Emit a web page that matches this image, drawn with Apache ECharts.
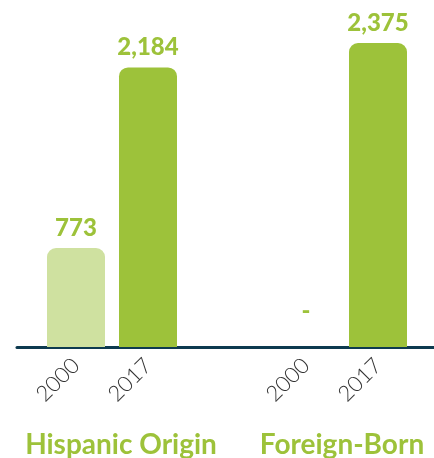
<!DOCTYPE html>
<html>
<head>
<meta charset="utf-8">
<style>
  html, body { margin: 0; padding: 0; background: #fff; }
  #main { width: 434px; height: 458px; }
</style>
<script src="https://cdn.jsdelivr.net/npm/echarts@6/dist/echarts.min.js"></script>
</head>
<body>
<div id="main"></div>
<script>
  // data
  var groups = ['Hispanic Origin', 'Foreign-Born'];
  var years = ['2000', '2017'];
  var hispanic = [773, 2184];
  var foreignBorn = [null, 2375];   // 2000 shown as "-"

  var yearColors = ['#cfe1a0', '#9dc23a'];
  var green = '#9dc23a';
  var navy = '#0d3a4f';

  function barData(vals) {
    return vals.map(function (v, i) {
      if (v === null) {
        return { value: 0, itemStyle: { color: yearColors[i] }, label: { formatter: '-', distance: 24 } };
      }
      return { value: v, itemStyle: { color: yearColors[i] } };
    });
  }

  function catAxis(idx, name, pad) {
    return {
      type: 'category',
      gridIndex: idx,
      data: years,
      axisLine: { show: false },
      axisTick: { show: false },
      axisLabel: {
        rotate: 45, margin: 15,
        fontFamily: 'Lato', fontWeight: 300, fontSize: 22, color: '#333'
      },
      name: name,
      nameLocation: 'middle',
      nameGap: 84,
      nameTextStyle: {
        fontFamily: 'Lato', fontWeight: 'bold', fontSize: 28, color: green,
        padding: pad
      }
    };
  }

  function valAxis(idx) {
    return { type: 'value', gridIndex: idx, min: 0, max: 2500, show: false };
  }

  function barSeries(idx, vals) {
    return {
      type: 'bar',
      xAxisIndex: idx,
      yAxisIndex: idx,
      barWidth: 58,
      data: barData(vals),
      itemStyle: { borderRadius: [9, 9, 0, 0] },
      label: {
        show: true, position: 'top', distance: 8,
        fontFamily: 'Lato', fontWeight: 900, fontSize: 24, color: green,
        formatter: function (p) { return p.value.toLocaleString('en-US'); }
      },
      silent: true
    };
  }

  var chart = echarts.init(document.getElementById('main'));
  chart.setOption({
    animation: false,
    grid: [
      { left: 40, width: 144, top: 27, bottom: 111, outerBoundsMode: 'none' },
      { left: 270, width: 144, top: 27, bottom: 111, outerBoundsMode: 'none' },
      { left: 17, right: 0, top: 27, bottom: 111, outerBoundsMode: 'none' }
    ],
    xAxis: [
      catAxis(0, groups[0], [0, 0, 0, 18]),
      catAxis(1, groups[1], [0, 0, 0, 0]),
      {
        type: 'category', gridIndex: 2, data: [],
        axisLine: { lineStyle: { color: navy, width: 3 } },
        axisTick: { show: false }, axisLabel: { show: false }
      }
    ],
    yAxis: [valAxis(0), valAxis(1), valAxis(2)],
    series: [
      barSeries(0, hispanic),
      barSeries(1, foreignBorn)
    ]
  });
</script>
</body>
</html>
